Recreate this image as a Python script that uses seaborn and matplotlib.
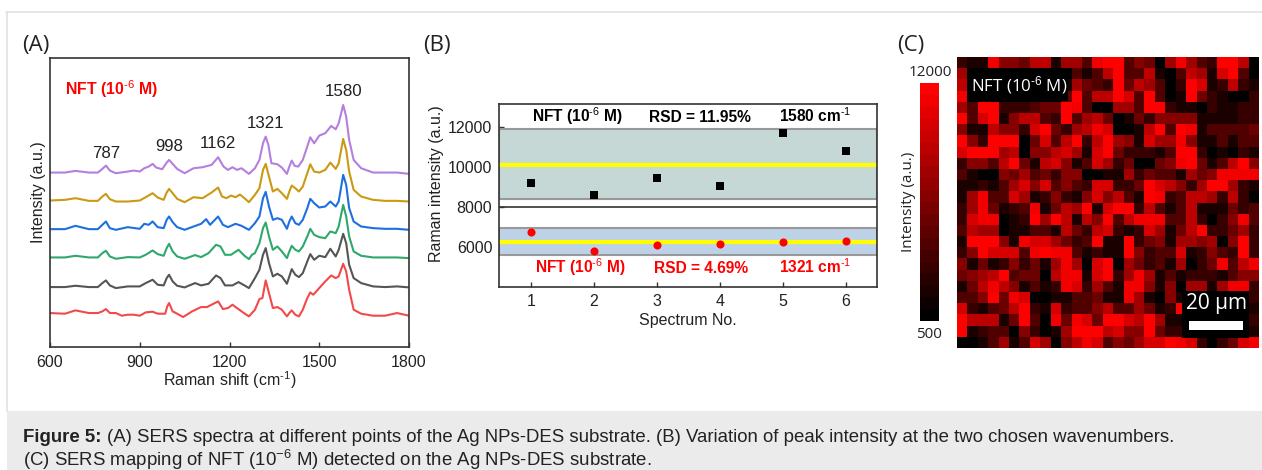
import numpy as np
import pandas as pd
import seaborn as sns
import matplotlib
matplotlib.use("Agg")
import matplotlib.pyplot as plt
from matplotlib.colors import LinearSegmentedColormap
from matplotlib.patches import Rectangle
from matplotlib.lines import Line2D

W, H = 1262, 470
sns.set_theme(style="white")
plt.rcParams['font.family'] = ['Liberation Sans', 'DejaVu Sans']
plt.rcParams['mathtext.fontset'] = 'custom'
plt.rcParams['mathtext.rm'] = 'Liberation Sans'
plt.rcParams['mathtext.bf'] = 'Liberation Sans:bold'
plt.rcParams['mathtext.default'] = 'regular'

# ---------- Panel A data ----------
purple_x = [600,650,685,730,760,775,787,800,820,860,880,900,915,930,943,955,975,990,998,1010,1025,1050,1080,1110,1140,1162,1180,1195,1210,1225,1240,1265,1285,1300,1312,1321,1330,1340,1360,1375,1392,1400,1408,1418,1430,1445,1460,1470,1483,1500,1520,1540,1555,1565,1580,1590,1600,1615,1640,1680,1720,1760,1800]
purple_y = [524,524,529,524,524,535,545,530,522,527,530,527,537,542,550,539,534,554,562,550,535,522,537,540,547,570,542,532,540,532,537,520,537,562,612,632,607,552,549,539,520,542,560,544,542,562,602,630,612,635,642,664,654,672,727,692,622,562,537,524,524,524,520]
gold_x = [600,650,685,730,760,775,787,800,820,860,900,920,943,960,980,990,998,1010,1025,1050,1080,1110,1140,1162,1175,1190,1205,1220,1235,1250,1265,1285,1300,1312,1321,1332,1345,1360,1375,1392,1400,1408,1420,1432,1445,1460,1470,1483,1500,1520,1537,1555,1565,1580,1590,1600,1615,1640,1680,1720,1760,1800]
gold_y = [440,442,447,439,439,452,460,444,437,437,440,450,462,449,442,464,475,462,445,435,450,447,464,479,452,447,455,450,458,447,435,457,477,532,550,512,467,475,462,445,467,485,477,467,482,522,549,527,524,532,554,535,552,625,592,527,472,452,442,439,439,437]
blue_x = [600,650,685,730,760,775,787,800,820,860,900,915,930,943,960,980,990,998,1010,1025,1050,1080,1105,1122,1135,1162,1178,1195,1220,1240,1265,1285,1300,1312,1321,1332,1345,1360,1375,1392,1400,1408,1420,1432,1445,1460,1470,1483,1500,1520,1537,1555,1565,1580,1590,1600,1615,1640,1680,1720,1760,1800]
blue_y = [354,354,364,354,354,367,377,357,352,360,355,370,367,377,360,357,382,392,375,360,352,362,370,384,367,392,367,360,370,364,352,372,392,447,466,422,382,387,382,355,377,392,372,367,382,417,445,432,419,422,437,422,437,517,487,417,377,362,357,355,355,352]
green_x = [600,650,685,730,760,775,787,800,820,860,900,920,943,960,980,990,998,1010,1025,1050,1085,1105,1130,1155,1170,1185,1205,1230,1250,1265,1275,1285,1300,1312,1321,1332,1345,1360,1375,1392,1400,1408,1420,1432,1445,1460,1470,1483,1500,1520,1537,1555,1565,1580,1590,1600,1615,1640,1680,1720,1760,1800]
green_y = [269,269,274,269,269,282,289,272,265,270,269,277,290,279,274,297,310,287,272,265,276,270,282,307,302,277,277,292,274,264,277,282,312,357,374,332,292,302,287,267,287,304,292,287,302,332,355,337,330,327,347,342,362,427,392,332,287,274,269,269,269,267]
gray_x = [600,650,685,730,760,775,787,800,820,860,900,920,943,960,980,990,998,1010,1025,1050,1085,1105,1130,1155,1170,1185,1210,1230,1250,1265,1285,1300,1312,1321,1332,1345,1360,1375,1392,1400,1408,1420,1432,1445,1460,1470,1483,1500,1520,1537,1555,1565,1580,1590,1600,1615,1640,1680,1720,1760,1800]
gray_y = [180,180,184,180,180,192,200,185,177,182,182,192,202,187,185,207,217,197,184,179,192,185,190,215,207,185,185,195,185,177,207,232,277,297,252,212,220,212,190,212,234,217,210,222,257,279,262,274,270,295,272,292,340,312,247,207,192,182,180,182,179]
red_x = [600,650,685,730,760,775,787,800,820,840,860,880,900,920,943,960,985,992,998,1010,1025,1045,1075,1105,1125,1140,1162,1178,1195,1210,1225,1245,1265,1285,1300,1310,1321,1332,1345,1360,1375,1392,1400,1408,1420,1432,1445,1460,1470,1480,1500,1520,1540,1555,1565,1580,1590,1600,1615,1640,1680,1720,1760,1800]
red_y = [102,100,110,102,102,107,114,102,102,94,97,97,94,104,106,100,100,122,132,107,100,90,107,120,120,127,137,114,117,127,117,104,92,112,144,147,200,162,117,120,112,92,102,110,97,92,112,147,164,157,177,197,215,207,212,250,227,172,112,100,94,94,102,94]
spectra_colors = ['#f24a4a', '#555555', '#2fa86c', '#1e6fe0', '#c99a12', '#b57fdd']
peak_labels = ['787', '998', '1162', '1321', '1580']
peak_x = [787, 998, 1162, 1321, 1580]
peak_y = [580, 603, 611, 671, 767]

# ---------- Panel B data ----------
spectrum_no = [1, 2, 3, 4, 5, 6]
intensity_1580 = [9200, 8585, 9435, 9070, 11700, 10785]
intensity_1321 = [6735, 5815, 6120, 6135, 6270, 6300]
band_1580 = (8400, 11880)
band_1321 = (5585, 6935)
mean_1580 = 10120
mean_1321 = 6270

map_levels = [
 [2,1,1,9,5,5,4,7,7,1,6,6,3,9,10,10,3,5,4,0,6,9,6,3,2,10,10,7,0],
 [6,0,0,0,0,0,0,0,0,0,0,3,1,3,7,10,3,3,7,1,0,3,7,6,1,8,10,3,0],
 [7,0,0,0,0,0,0,0,0,0,1,6,4,3,2,10,4,7,6,3,0,2,10,8,1,2,7,2,1],
 [9,0,0,0,0,0,0,0,0,0,4,10,3,7,7,10,8,3,10,3,0,1,10,4,2,1,0,0,2],
 [6,3,10,10,2,2,2,3,4,4,10,9,3,0,0,6,6,3,10,10,2,1,1,0,2,1,1,2,2],
 [10,3,8,10,1,5,7,7,3,2,10,3,6,7,4,0,1,4,2,5,5,5,5,1,1,1,1,2,2],
 [5,1,1,7,5,5,2,8,10,4,2,6,7,9,8,0,0,1,7,10,3,10,9,1,3,3,3,3,4],
 [10,5,2,10,10,10,0,4,8,3,7,10,2,7,10,6,5,1,8,6,6,9,5,1,1,3,1,3,3],
 [8,10,10,10,6,7,0,5,5,7,8,6,1,8,10,4,2,2,2,1,3,10,10,2,0,1,0,2,1],
 [2,5,5,3,7,10,4,1,7,8,5,1,3,8,6,2,4,0,0,4,5,9,10,4,1,3,7,10,5],
 [3,1,0,0,5,4,6,3,4,2,5,5,0,0,1,1,6,2,4,3,3,1,6,4,5,9,9,9,9],
 [1,1,2,1,3,6,8,5,8,3,5,3,2,8,8,2,2,4,10,8,7,5,2,6,10,10,6,2,1],
 [1,6,9,3,3,8,6,1,2,5,2,1,5,8,5,7,3,1,10,9,2,3,7,7,6,2,7,2,0],
 [2,6,9,4,1,2,3,9,1,4,7,6,10,1,8,10,10,2,7,3,1,3,7,1,1,1,4,2,3],
 [2,8,9,9,0,1,2,10,6,10,7,1,7,5,10,3,7,9,9,9,3,3,7,2,0,2,5,9,3],
 [3,7,6,6,0,1,1,3,3,1,7,4,2,7,8,2,1,2,8,6,1,4,7,10,2,2,4,6,2],
 [1,10,10,10,5,1,9,8,8,6,4,2,3,10,1,1,10,2,4,5,1,6,6,5,6,0,5,10,2],
 [2,5,10,8,8,8,3,9,10,9,9,3,1,2,1,1,10,5,2,3,3,8,1,2,5,3,2,10,2],
 [5,1,4,1,2,5,2,4,1,6,9,6,0,8,10,0,6,4,2,3,1,6,0,2,4,9,3,7,9],
 [4,5,6,7,10,3,4,4,0,7,9,9,1,8,10,2,6,9,6,1,3,1,2,2,2,1,3,5,5],
 [1,4,7,9,7,5,1,3,1,2,9,8,2,6,3,1,9,9,5,1,5,0,6,6,1,6,9,9,2],
 [3,3,5,10,4,9,8,0,0,1,1,3,3,4,1,1,9,6,1,0,5,1,0,0,0,0,0,0,2],
 [8,2,1,3,4,7,10,2,1,8,2,3,3,5,7,3,3,6,4,1,2,10,0,0,0,0,0,0,1],
 [10,7,7,7,1,4,10,3,0,9,4,9,8,4,10,10,8,7,10,6,1,1,0,0,0,0,0,0,2],
 [10,1,2,3,3,0,5,2,0,1,6,10,10,10,7,8,5,5,10,4,2,2,0,0,0,0,0,0,1],
 [0,0,1,3,6,1,3,8,6,0,5,7,9,8,3,5,4,6,8,8,10,9,8,2,0,2,4,8,9],
]
map_min, map_max = 500, 12000
map_intensity = pd.DataFrame(map_min + np.array(map_levels) * (map_max - map_min) / 10)


def box(l, t, r, b):
    return [l / W, 1 - b / H, (r - l) / W, (b - t) / H]


def fx(x):
    return x / W


def fy(y):
    return 1 - y / H


fig = plt.figure(figsize=(W / 100, H / 100), dpi=100, facecolor='white')

# page furniture
fig.add_artist(Rectangle((fx(7), 0), 1 - fx(7), 59 / H, transform=fig.transFigure,
                         facecolor='#ebebeb', edgecolor='none', zorder=-2))
fig.add_artist(Line2D([fx(6), 1], [fy(12), fy(12)], color='#e2e2e2', lw=1.2, zorder=-1))
fig.add_artist(Line2D([fx(6.5), fx(6.5)], [fy(12), fy(411)], color='#e2e2e2', lw=1.2, zorder=-1))

CAP = dict(fontsize=13.4, va='center', color='#222222')
fig.text(fx(23), fy(437), 'Figure 5:', fontweight='bold', **CAP)
fig.text(fx(107), fy(437), '(A) SERS spectra at different points of the Ag NPs-DES substrate. (B) Variation of peak '
         'intensity at the two chosen wavenumbers.', **CAP)
fig.text(fx(23), fy(460), '(C) SERS mapping of NFT (10$^{-6}$ M) detected on the Ag NPs-DES substrate.', **CAP)

LAB = dict(fontsize=16, va='center', family=['Open Sans', 'DejaVu Sans'], color='#222222')
fig.text(fx(22), fy(45), '(A)', **LAB)
fig.text(fx(423), fy(45), '(B)', **LAB)
fig.text(fx(897), fy(45), '(C)', **LAB)

SP = '#333333'
FS = 11.5
SUP = r'$^{\text{-6}}$'
SUP1 = r'$^{\text{-1}}$'

# ---------- Panel A ----------
axA = fig.add_axes(box(50, 57.7, 409, 347))
series = [(red_x, red_y), (gray_x, gray_y), (green_x, green_y),
          (blue_x, blue_y), (gold_x, gold_y), (purple_x, purple_y)]
for (xs, ys), c in zip(series, spectra_colors):
    sns.lineplot(x=xs, y=ys, color=c, lw=1.5, ax=axA, estimator=None, sort=False)
axA.set_xlim(600, 1800)
axA.set_ylim(0, 869)
axA.set_xticks([600, 900, 1200, 1500, 1800])
axA.set_yticks([])
axA.tick_params(axis='x', direction='in', length=3.5, width=1, color=SP, pad=6,
                labelsize=FS, bottom=True, labelcolor='#222222')
axA.set_xlabel('Raman shift (cm' + SUP1 + ')', fontsize=FS, color='#222222', labelpad=-1)
axA.set_ylabel('Intensity (a.u.)', fontsize=FS, color='#222222')
axA.yaxis.set_label_coords((46 - 50) / 359, 0.536)
for s in axA.spines.values():
    s.set_color(SP)
    s.set_linewidth(1.2)
for lab, px, py in zip(peak_labels, peak_x, peak_y):
    axA.text(px, py, lab, fontsize=12.2, ha='center', va='center', color='#222222')
axA.text(0.043, 0.893, 'NFT (10' + SUP + ' M)', transform=axA.transAxes, color='#ff0000',
         fontsize=11.4, fontweight='bold', va='center')

# ---------- Panel B ----------
axB = fig.add_axes(box(499.3, 104, 877, 287))
axB.set_xlim(0.5, 6.5)
axB.set_ylim(4000, 13150)
for (lo, hi), fc in ((band_1580, '#c5d8d6'), (band_1321, '#bdd1e7')):
    axB.axhspan(lo, hi, facecolor=fc, edgecolor='#999999', lw=1.5, zorder=1)
axB.axhline(mean_1580, color='#ffff00', lw=3, zorder=2)
axB.axhline(mean_1321, color='#ffff00', lw=3, zorder=2)
axB.axhline(8000, color=SP, lw=1.2, zorder=2)
sns.scatterplot(x=spectrum_no, y=intensity_1580, marker='s', color='black', s=26,
                linewidth=0, ax=axB, zorder=3)
sns.scatterplot(x=spectrum_no, y=intensity_1321, marker='o', color='#ff0000', s=34,
                linewidth=0, ax=axB, zorder=3)
axB.set_xticks(spectrum_no)
axB.set_yticks([6000, 8000, 10000, 12000])
axB.tick_params(axis='both', direction='in', length=3.5, width=1, color=SP,
                labelsize=FS, bottom=True, left=True, pad=5, labelcolor='#222222')
axB.set_xlabel('Spectrum No.', fontsize=FS, color='#222222', labelpad=3)
axB.set_ylabel('Raman intensity (a.u.)', fontsize=FS, color='#222222')
axB.yaxis.set_label_coords((444 - 499.3) / 377.7, 0.563)
for s in axB.spines.values():
    s.set_color(SP)
    s.set_linewidth(1.2)
BT = dict(fontsize=11.2, fontweight='bold', va='baseline')
fig.text(fx(532), fy(122), 'NFT (10' + SUP + ' M)', color='black', **BT)
fig.text(fx(649), fy(122), 'RSD = 11.95%', color='black', **BT)
fig.text(fx(779), fy(122), '1580 cm' + SUP1, color='black', **BT)
fig.text(fx(535), fy(273), 'NFT (10' + SUP + ' M)', color='#ff0000', **BT)
fig.text(fx(654), fy(273), 'RSD = 4.69%', color='#ff0000', **BT)
fig.text(fx(779), fy(273), '1321 cm' + SUP1, color='#ff0000', **BT)

# ---------- Panel C ----------
OS = ['Open Sans', 'DejaVu Sans']
axC = fig.add_axes(box(957, 57, 1259, 348))
cax = fig.add_axes(box(920, 83.3, 939, 321))
cmap = LinearSegmentedColormap.from_list('blackred', ['#000000', '#ff0000'], N=20)
sns.heatmap(map_intensity, ax=axC, cbar_ax=cax, cmap=cmap, vmin=map_min, vmax=map_max,
            xticklabels=False, yticklabels=False, square=False)
cax.set_yticks([])
cax.tick_params(length=0)
axC.tick_params(length=0)
axC.set_xlabel('')
axC.set_ylabel('')
fig.add_artist(Rectangle((fx(970), fy(101)), 98 / W, 33 / H, transform=fig.transFigure,
                         facecolor='black', edgecolor='none', zorder=5))
fig.text(fx(1019), fy(85), 'NFT (10' + SUP + ' M)', color='white', fontsize=12.2, ha='center',
         va='center', family=OS, zorder=6)
fig.add_artist(Rectangle((fx(1182), fy(338)), 67 / W, 47.5 / H, transform=fig.transFigure,
                         facecolor='black', edgecolor='none', zorder=5))
fig.text(fx(1216), fy(304), '20 µm', color='white', fontsize=15, ha='center', va='center',
         family=OS, zorder=6)
fig.add_artist(Rectangle((fx(1189), fy(330)), 54 / W, 9.5 / H, transform=fig.transFigure,
                         facecolor='white', edgecolor='none', zorder=6))
fig.text(fx(930), fy(72.7), str(map_max), fontsize=11, ha='center', va='center', family=OS, color='#222222')
fig.text(fx(929), fy(334), str(map_min), fontsize=11, ha='center', va='center', family=OS, color='#222222')
fig.text(fx(908), fy(201.7), 'Intensity (a.u.)', fontsize=11, rotation=90, ha='center', va='center',
         family=OS, color='#222222')

fig.savefig('out.png', dpi=100)
